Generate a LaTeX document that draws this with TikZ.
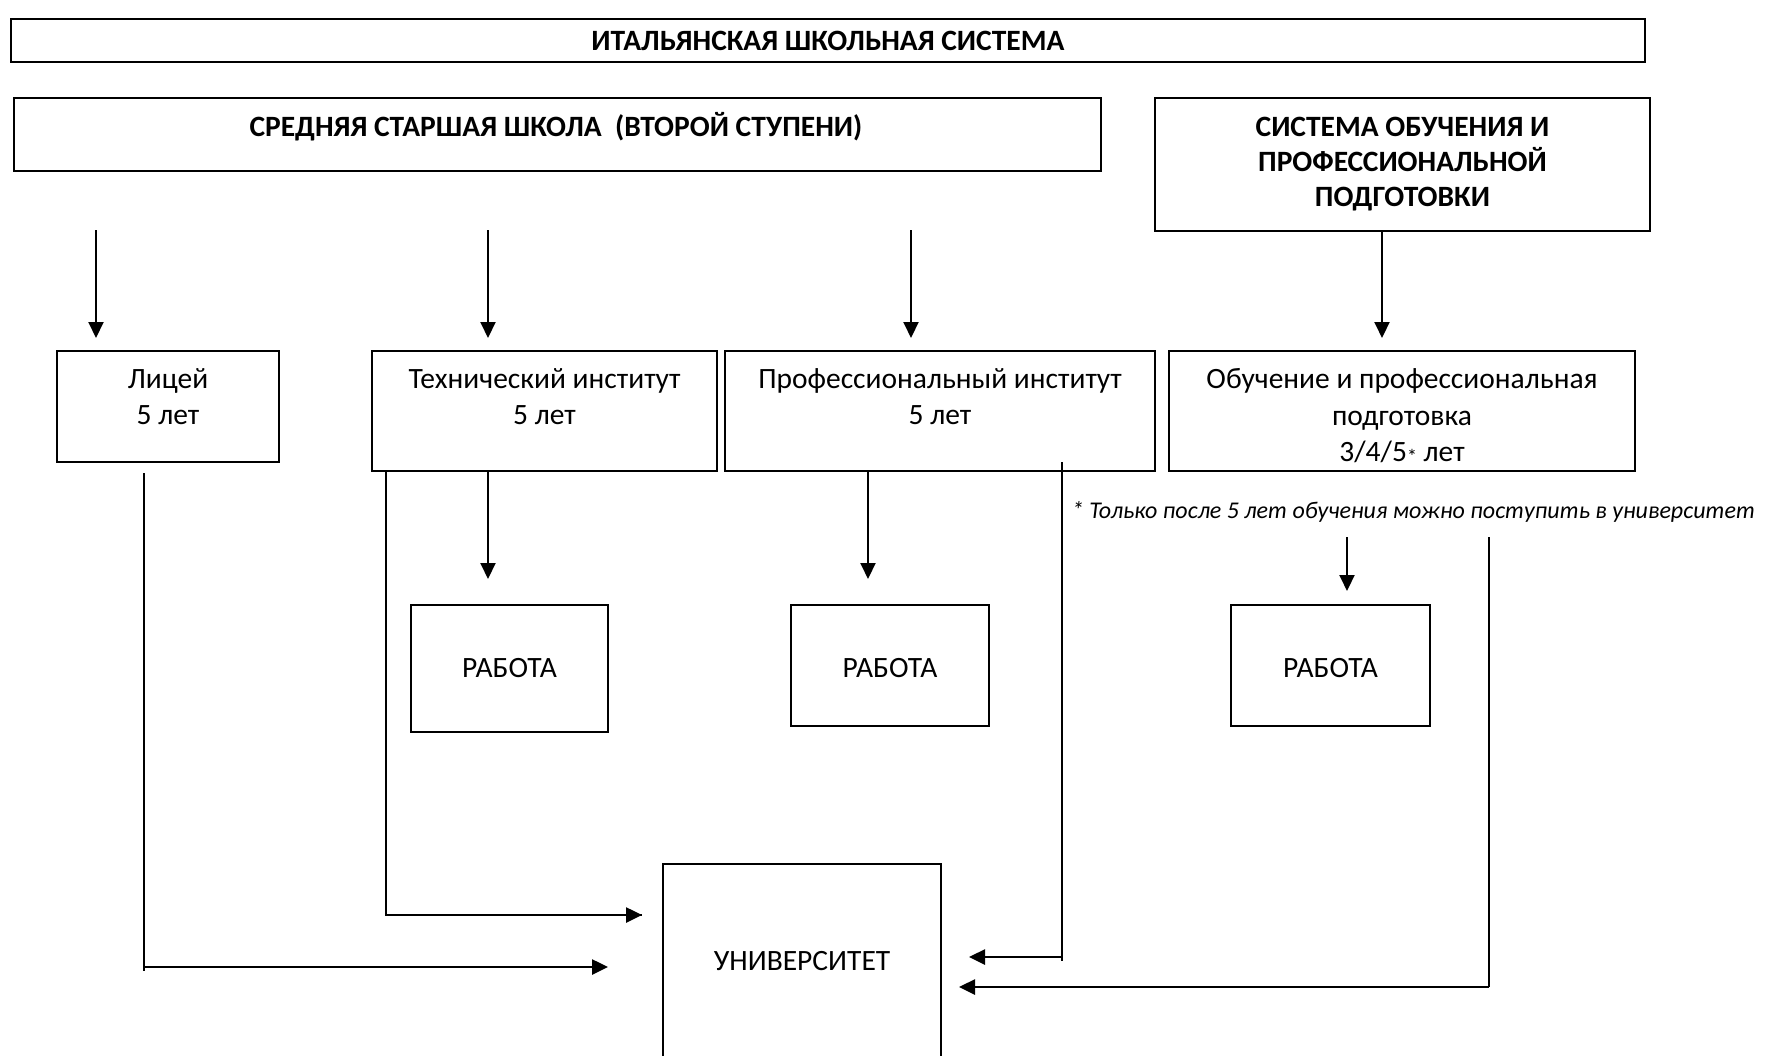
\documentclass[tikz,border=0pt]{standalone}
\usepackage{fontspec}
\setmainfont{Carlito}
\usetikzlibrary{arrows.meta,calc}
\tikzset{
  box/.style={draw, line width=1.8pt, inner sep=0pt},
  txt/.style={align=center, inner sep=0pt, font=\fontsize{29.5}{36.5}\selectfont},
  htxt/.style={align=center, inner sep=0pt, font=\fontsize{29.5}{35}\selectfont\bfseries},
  varrow/.style={line width=2pt, -{Triangle[length=16pt,width=15pt]}},
  harrow/.style={line width=2.6pt, -{Triangle[length=16pt,width=15pt]}},
  plain/.style={line width=1.8pt},
}
\begin{document}
\begin{tikzpicture}[x=1pt,y=-1pt]
\useasboundingbox[fill=white] (0,0) rectangle (1779,1055);

% headers
\node[box, minimum width=1634pt, minimum height=43pt, htxt] (top) at (828,40.5) {ИТАЛЬЯНСКАЯ ШКОЛЬНАЯ СИСТЕМА};
\node[box, minimum width=1087pt, minimum height=73pt] (mid) at (557.5,134.5) {};
\node[htxt] (midT) at (556,127) {СРЕДНЯЯ СТАРШАЯ ШКОЛА\ \ (ВТОРОЙ СТУПЕНИ)};
\node[box, minimum width=495pt, minimum height=133pt, htxt] (rhead) at (1402.5,164.5) {СИСТЕМА ОБУЧЕНИЯ И\\ПРОФЕССИОНАЛЬНОЙ\\ПОДГОТОВКИ};

% schools
\node[box, minimum width=222pt, minimum height=111pt] (lic) at (168,406.5) {};
\node[txt] (licT) at (168,396.5) {Лицей\\5 лет};
\node[box, minimum width=345pt, minimum height=120pt] (tech) at (544.5,411) {};
\node[txt] (techT) at (544.5,396.5) {Технический институт\\5 лет};
\node[box, minimum width=430pt, minimum height=120pt] (prof) at (940,411) {};
\node[txt] (profT) at (940,396.5) {Профессиональный институт\\5 лет};
\node[box, minimum width=466pt, minimum height=120pt] (obuch) at (1402,411) {};
\node[txt] (obuchT) at (1402,416) {Обучение и профессиональная\\подготовка\\3/4/5{\fontsize{20}{20}\selectfont\raisebox{-2pt}{*}} лет};

\node[inner sep=0pt, font=\fontsize{24}{28}\selectfont\itshape] (note) at (1413.5,512) {* Только после 5 лет обучения можно поступить в университет};

% work
\node[box, minimum width=197pt, minimum height=127pt] (rab1) at (509.5,668.5) {};
\node[txt] (rab1T) at (509.5,668) {РАБОТА};
\node[box, minimum width=198pt, minimum height=121pt] (rab2) at (890,665.5) {};
\node[txt] (rab2T) at (890,668) {РАБОТА};
\node[box, minimum width=199pt, minimum height=121pt] (rab3) at (1330.5,665.5) {};
\node[txt] (rab3T) at (1330.5,668) {РАБОТА};

% university (bottom edge lies beyond the page)
\node[box, minimum width=278pt, minimum height=194pt, txt] (univ) at (802,961) {УНИВЕРСИТЕТ};

% free ends
\coordinate (m1) at (96,230);   \coordinate (m1e) at (96,338);
\coordinate (m2) at (488,230);  \coordinate (m2e) at (488,338);
\coordinate (m3) at (911,230);  \coordinate (m3e) at (911,338);
\coordinate (r1e) at (1382,338);
\coordinate (t1) at (488,471);  \coordinate (t1e) at (488,579);
\coordinate (p1) at (868,471);  \coordinate (p1e) at (868,579);
\coordinate (o1) at (1347,537); \coordinate (o1e) at (1347,591);
\coordinate (l0) at (144,473);  \coordinate (l1) at (144,971); \coordinate (lh) at (144,967); \coordinate (le) at (608,967);
\coordinate (t0) at (386,471);  \coordinate (te) at (642,915);
\coordinate (p0) at (1062,462); \coordinate (p2) at (1062,961); \coordinate (ph) at (1062,957); \coordinate (pe) at (969,957);
\coordinate (o0) at (1489,537); \coordinate (oe) at (959,987);

% connectors
\draw[varrow] (m1) -- (m1e);
\draw[varrow] (m2) -- (m2e);
\draw[varrow] (m3) -- (m3e);
\draw[varrow] (rhead.south -| r1e) -- (r1e);
\draw[varrow] (t1) -- (t1e);
\draw[varrow] (p1) -- (p1e);
\draw[varrow] (o1) -- (o1e);

\draw[plain] (l0) -- (l1);
\draw[harrow] (lh) -- (le);
\draw[plain] (t0) |- (te);
\draw[harrow] (t0 |- te) -- (te);
\draw[plain] (p0) -- (p2);
\draw[harrow] (ph) -- (pe);
\draw[plain] (o0) -- (o0 |- oe);
\draw[harrow] (o0 |- oe) -- (oe);
\end{tikzpicture}
\end{document}
